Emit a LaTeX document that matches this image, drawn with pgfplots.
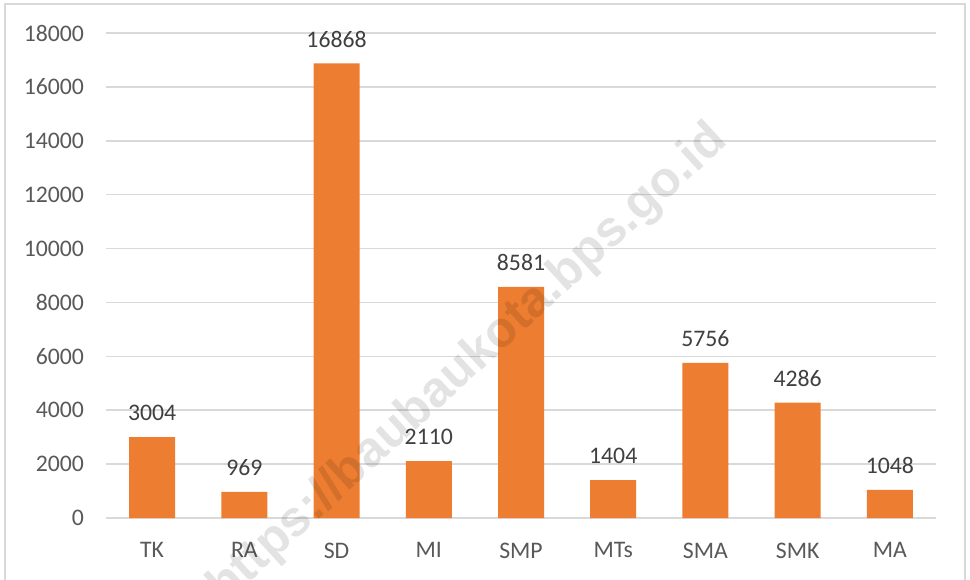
\documentclass[border=0pt]{standalone}
\usepackage{pgfplots}
\pgfplotsset{compat=1.18}
\usepackage{fontspec}
\setmainfont{Carlito}
\newfontfamily\wmfont{Liberation Sans}
\definecolor{barorange}{HTML}{ED7D31}
\definecolor{ticktext}{HTML}{595959}
\definecolor{labeltext}{HTML}{404040}
\definecolor{gridgray}{HTML}{D9D9D9}
\begin{document}
\begin{tikzpicture}
\useasboundingbox (0,0) rectangle (727.5pt,434.25pt);
\fill[white] (0,0) rectangle (727.5pt,434.25pt);
\draw[gridgray, line width=1.5pt] (3.75pt,-10pt) -- (3.75pt,431.25pt) -- (723.75pt,431.25pt) -- (723.75pt,-10pt);
\begin{axis}[
  at={(79.5pt,45.75pt)}, anchor=south west,
  scale only axis,
  width=622.5pt, height=363.75pt,
  xmin=-0.5, xmax=8.5,
  ymin=0, ymax=18000,
  ytick={0,2000,...,18000},
  scaled y ticks=false,
  yticklabel style={/pgf/number format/fixed, /pgf/number format/precision=0},
  xtick=data,
  xticklabels={TK,RA,SD,MI,SMP,MTs,SMA,SMK,MA},
  axis line style={draw=none},
  ymajorgrids,
  grid style={gridgray, line width=1.1pt},
  major tick length=0pt,
  /pgf/number format/assume math mode=true,
  /pgf/number format/1000 sep={},
  tick label style={font=\fontsize{17.8}{20}\selectfont, text=ticktext},
  yticklabel style={xshift=-13pt},
  xticklabel style={yshift=-15pt},
  ybar, bar width=34.5pt,
  nodes near coords,
  nodes near coords style={font=\fontsize{17.8}{20}\selectfont, text=labeltext, anchor=south, yshift=8.5pt},
  clip=false,
]
\addplot[fill=barorange, draw=none] coordinates {
  (0,3004) (1,969) (2,16868) (3,2110) (4,8581) (5,1404) (6,5756) (7,4286) (8,1048)
};
\end{axis}
\node[anchor=base, rotate=42.5, text=black, opacity=0.11, font=\wmfont\bfseries\fontsize{37.5}{40}\selectfont, inner sep=0pt] at (357.75pt,153.75pt) {https://baubaukota.bps.go.id};
\end{tikzpicture}
\end{document}
